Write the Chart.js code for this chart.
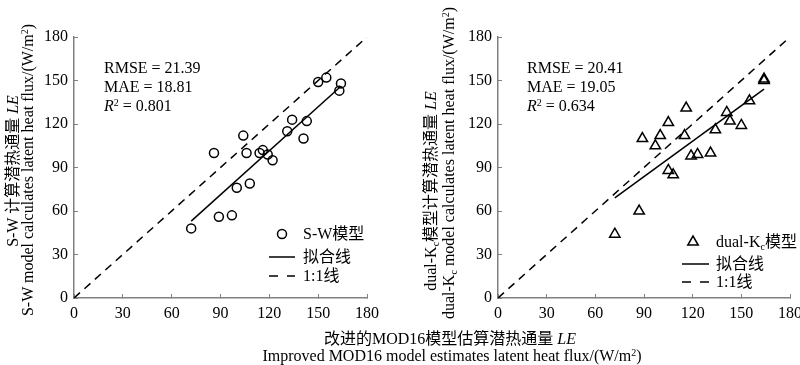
<!DOCTYPE html>
<html>
<head>
<meta charset="utf-8">
<script src="https://cdn.jsdelivr.net/npm/chart.js@4.4.1/dist/chart.umd.min.js"></script>
<style>
  body { margin: 0; background: #fff; }
  #wrap {
    position: relative; width: 800px; height: 365px; overflow: hidden;
    font-family: "Liberation Serif", "Noto Sans CJK SC", serif; font-size: 16px; color: #000;
  }
  canvas { position: absolute; top: 0; }
  .t { position: absolute; white-space: nowrap; line-height: 1; }
  .rot { transform: translate(-50%, -50%) rotate(-90deg); }
  .ctr { transform: translate(-50%, -50%); }
  .lg { transform: translateY(-50%); }
  .lat { font-family: "Liberation Serif", serif; }
  .stats { position: absolute; line-height: 19px; white-space: nowrap; }
  sup { font-size: 10px; position: relative; top: -0.55em; vertical-align: baseline; }
  sub { font-size: 10px; position: relative; top: 0.3em; vertical-align: baseline; }
  svg { position: absolute; left: 0; top: 0; }
</style>
</head>
<body>
<div id="wrap">
  <canvas id="swChart" width="400" height="365" style="left:0"></canvas>
  <canvas id="kcChart" width="400" height="365" style="left:400px"></canvas>

  <!-- y axis titles -->
  <div class="t rot" style="left:13px;top:171px">S-W 计算潜热通量 <i>LE</i></div>
  <div class="t rot" style="left:28px;top:170px">S-W model calculates latent heat flux/(W/m<sup>2</sup>)</div>
  <div class="t rot" style="left:431px;top:191px">dual-K<sub>c</sub>模型计算潜热通量 <i>LE</i></div>
  <div class="t rot" style="left:449px;top:163px">dual-K<sub>c</sub> model calculates latent heat flux/(W/m<sup>2</sup>)</div>

  <!-- shared x axis title -->
  <div class="t ctr" style="left:450px;top:339px">改进的MOD16模型估算潜热通量 <i>LE</i></div>
  <div class="t ctr" style="left:452px;top:356px">Improved MOD16 model estimates latent heat flux/(W/m<sup>2</sup>)</div>

  <!-- statistics -->
  <div class="stats" style="left:104px;top:58px">RMSE = 21.39<br>MAE = 18.81<br><i>R</i><sup>2</sup> = 0.801</div>
  <div class="stats" style="left:527px;top:58px">RMSE = 20.41<br>MAE = 19.05<br><i>R</i><sup>2</sup> = 0.634</div>

  <!-- legends -->
  <svg width="800" height="365">
    <circle cx="282" cy="234" r="4.5" fill="none" stroke="#000" stroke-width="1.5"/>
    <line x1="269" y1="257" x2="295" y2="257" stroke="#000" stroke-width="1.5"/>
    <line x1="269" y1="276" x2="295" y2="276" stroke="#000" stroke-width="1.5" stroke-dasharray="9,9"/>
    <polygon points="693,236 698.2,245 687.8,245" fill="none" stroke="#000" stroke-width="1.5"/>
    <line x1="682" y1="264" x2="709" y2="264" stroke="#000" stroke-width="1.5"/>
    <line x1="682" y1="282" x2="709" y2="282" stroke="#000" stroke-width="1.5" stroke-dasharray="9,9"/>
  </svg>
  <div class="t lg" style="left:303px;top:234px"><span class="lat">S-W</span>模型</div>
  <div class="t lg" style="left:303px;top:257px">拟合线</div>
  <div class="t lg" style="left:303px;top:276px"><span class="lat">1:1</span>线</div>
  <div class="t lg" style="left:716px;top:242px"><span class="lat">dual-K<sub>c</sub></span>模型</div>
  <div class="t lg" style="left:716px;top:264px">拟合线</div>
  <div class="t lg" style="left:716px;top:282px"><span class="lat">1:1</span>线</div>
</div>

<script>
// axis ticks
const tickMin = 0;
const tickMax = 180;
const tickStep = 30;

// S-W model vs improved MOD16
const swX = [72, 86, 89, 97, 100, 104, 106, 108, 114, 116, 119, 122, 131, 134, 141, 143, 150, 155, 163, 164];
const swY = [48, 100, 56, 57, 76, 112, 100, 79, 100, 102, 99, 95, 115, 123, 110, 122, 149, 152, 143, 148];
const swFitY = [53, 146];

// dual-Kc model vs improved MOD16
const kcX = [72, 87, 89, 97, 100, 105, 105, 108, 115, 116, 119, 123, 131, 134, 141, 143, 150, 155, 164, 164];
const kcY = [44, 60, 110, 105, 112, 121, 88, 85, 112, 131, 98, 99, 100, 116, 128, 122, 119, 136, 151, 150];
const kcFitY = [69, 144];

// fit line ends and 1:1 line
const fitX = [72, 164];
const oneX = [0, 180];
const oneY = [0, 180];

const FONT = { family: '"Liberation Serif", "Noto Sans CJK SC", serif', size: 16 };
const AXIS = '#808080';

function pts(xs, ys) {
  return xs.map((x, i) => ({ x: x, y: ys[i] }));
}

function axis(fitFn, pad) {
  return {
    type: 'linear',
    min: tickMin,
    max: tickMax,
    afterFit: fitFn,
    border: { display: true, color: AXIS, width: 1.5 },
    // negative tick length puts the ticks inside the plot, like the original
    grid: { display: true, drawOnChartArea: false, drawTicks: true, tickLength: -4, color: AXIS, lineWidth: 1 },
    ticks: { stepSize: tickStep, color: '#000', font: FONT, padding: pad }
  };
}

function makeChart(id, xs, ys, fitY, style, radius, yWidth, rightPad) {
  const ctx = document.getElementById(id);
  if (!ctx) return;

  new Chart(ctx, {
    type: 'scatter',
    data: {
      datasets: [
        {
          data: pts(oneX, oneY),
          showLine: true,
          borderColor: '#000',
          borderWidth: 1.5,
          borderDash: [8, 6],
          pointRadius: 0
        },
        {
          data: pts(fitX, fitY),
          showLine: true,
          borderColor: '#000',
          borderWidth: 1.5,
          pointRadius: 0
        },
        {
          data: pts(xs, ys),
          pointStyle: style,
          pointRadius: radius,
          borderColor: '#000',
          borderWidth: 1.5,
          backgroundColor: 'rgba(0,0,0,0)'
        }
      ]
    },
    options: {
      responsive: false,
      animation: false,
      layout: { padding: { left: 0, top: 37, right: rightPad, bottom: 0 } },
      plugins: {
        legend: { display: false },
        tooltip: { enabled: false }
      },
      scales: {
        // fixed sizes so both plot areas sit where the original has them
        x: axis(s => { s.height = 67; s.paddingLeft = 0; s.paddingRight = 0; }, 10),
        y: axis(s => { s.width = yWidth; s.paddingTop = 0; s.paddingBottom = 0; }, 10)
      }
    }
  });
}

makeChart('swChart', swX, swY, swFitY, 'circle', 4.5, 74, 33);
makeChart('kcChart', kcX, kcY, kcFitY, 'triangle', 6, 98, 10);
</script>
</body>
</html>
